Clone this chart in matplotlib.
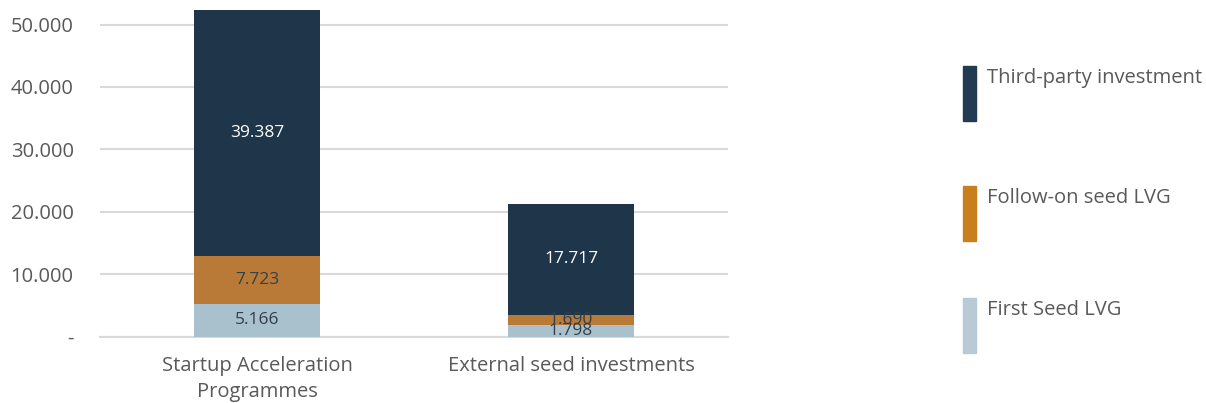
import matplotlib.pyplot as plt
from matplotlib.patches import Rectangle
from matplotlib.ticker import FuncFormatter

# ---- data ----
categories = ["Startup Acceleration\nProgrammes", "External seed investments"]
series_names = ["First Seed LVG", "Follow-on seed LVG", "Third-party investment"]
first_seed = [5166, 1798]
follow_on = [7723, 1690]
third_party = [39387, 17717]

# ---- style ----
BAR_COLORS = ["#A9C0CD", "#B87A36", "#1F3549"]
LEGEND_COLORS = ["#B8CAD6", "#C8801F", "#223B53"]
LABEL_COLORS = ["#333F4A", "#333F4A", "#FFFFFF"]
TEXT_COLOR = "#595959"
GRID_COLOR = "#D9D9D9"
FS = 14.5

plt.rcParams['font.family'] = ['Open Sans', 'DejaVu Sans']

fig = plt.figure(figsize=(12.06, 4.03), dpi=100)
ax = fig.add_axes([0.0829, 0.165, 0.5208, 0.8206])

x = list(range(len(categories)))
stack = [first_seed, follow_on, third_party]
bottom = [0] * len(categories)
for vals, color, lcol in zip(stack, BAR_COLORS, LABEL_COLORS):
    bars = ax.bar(x, vals, width=0.4, bottom=bottom, color=color, zorder=3)
    for b, v, b0 in zip(bars, vals, bottom):
        ax.text(b.get_x() + b.get_width() / 2, b0 + v / 2,
                f"{v:,}".replace(",", "."), ha="center", va="center",
                fontsize=12.5, color=lcol, zorder=4)
    bottom = [b0 + v for b0, v in zip(bottom, vals)]

ax.set_xlim(-0.5, 1.5)
ax.set_ylim(0, 53000)
ax.set_yticks([0, 10000, 20000, 30000, 40000, 50000])
ax.yaxis.set_major_formatter(FuncFormatter(
    lambda v, p: "-" if v == 0 else f"{int(v):,}".replace(",", ".")))
ax.set_xticks(x)
ax.set_xticklabels(categories, linespacing=1.4)

ax.grid(axis="y", color=GRID_COLOR, linewidth=1.5, zorder=0)
for s in ["top", "right", "left"]:
    ax.spines[s].set_visible(False)
ax.spines["bottom"].set_color(GRID_COLOR)
ax.spines["bottom"].set_linewidth(1.5)
ax.tick_params(axis="both", length=0, labelsize=FS, colors=TEXT_COLOR)
ax.tick_params(axis="x", pad=14)
ax.tick_params(axis="y", pad=19)

# legend, drawn as tall swatches with text beside the top
swatch_bottoms = [0.700, 0.402, 0.124]
for name, color, y0 in zip(reversed(series_names), reversed(LEGEND_COLORS), swatch_bottoms):
    fig.patches.append(Rectangle((0.7985, y0), 0.0108, 0.1365,
                                 transform=fig.transFigure, color=color))
    fig.text(0.8185, y0 + 0.1365 - 0.004, name, fontsize=FS, color=TEXT_COLOR,
             ha="left", va="top")

fig.savefig("out.png", dpi=100)
